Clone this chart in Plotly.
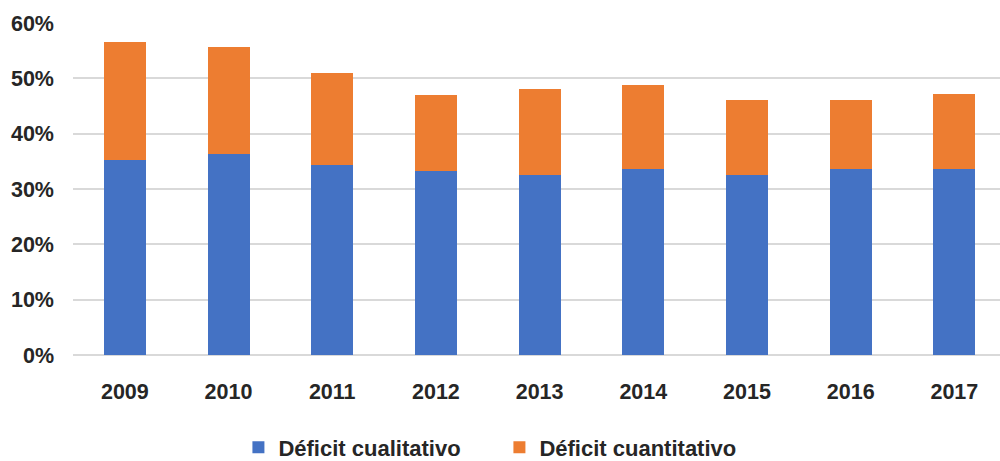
import plotly.graph_objects as go

years = ["2009", "2010", "2011", "2012", "2013", "2014", "2015", "2016", "2017"]
cualitativo = [0.353, 0.363, 0.344, 0.332, 0.326, 0.337, 0.326, 0.337, 0.337]
cuantitativo = [0.213, 0.193, 0.165, 0.138, 0.155, 0.151, 0.134, 0.123, 0.135]
y_ticks = [0, 0.1, 0.2, 0.3, 0.4, 0.5, 0.6]
y_tick_labels = ["0%", "10%", "20%", "30%", "40%", "50%", "60%"]

font_family = "Liberation Sans, Arial, sans-serif"

fig = go.Figure()
fig.add_trace(go.Bar(x=years, y=cualitativo, name="Déficit cualitativo",
                     marker=dict(color="#4472C4", line=dict(width=0))))
fig.add_trace(go.Bar(x=years, y=cuantitativo, name="Déficit cuantitativo",
                     marker=dict(color="#ED7D31", line=dict(width=0))))

fig.update_layout(
    width=1000, height=461,
    barmode="stack", bargap=0.595,
    plot_bgcolor="white", paper_bgcolor="white",
    margin=dict(l=73, r=0, t=23, b=106, autoexpand=False),
    font=dict(family=font_family, color="#262626"),
    xaxis=dict(type="category", range=[-0.5, 8.44], showgrid=False, automargin=False,
               showline=False, ticks="", tickfont=dict(size=21.5, family=font_family, weight="bold"),
               ticklabelstandoff=21),
    yaxis=dict(range=[0, 0.6], tickvals=y_ticks, ticktext=y_tick_labels, automargin=False,
               showgrid=True, gridcolor="#D9D9D9", gridwidth=1.5,
               zeroline=True, zerolinecolor="#D9D9D9", zerolinewidth=1.5,
               showline=False, ticks="",
               tickfont=dict(size=21.5, family=font_family, weight="bold"),
               ticklabelstandoff=18),
    legend=dict(orientation="h", x=0.46, xanchor="center", y=-0.215, yanchor="top",
                font=dict(size=22, family=font_family, weight="bold"),
                traceorder="normal", itemwidth=30, entrywidthmode="pixels", entrywidth=216),
    showlegend=True,
)

fig.write_html("out.html")
